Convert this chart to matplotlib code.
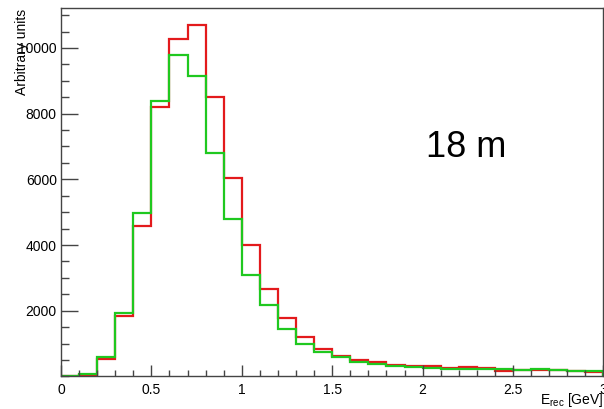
import numpy as np
import matplotlib
matplotlib.use("Agg")
import matplotlib.pyplot as plt
from matplotlib.ticker import MultipleLocator

# ==========================================================
# Data
# ==========================================================

bin_edges = np.round(np.arange(0.0, 3.0001, 0.1), 2)

red_counts = [10, 60, 530, 1850, 4570, 8210, 10280, 10710, 8500, 6050,
              4000, 2650, 1790, 1200, 850, 620, 500, 440, 360, 320,
              310, 260, 296, 266, 180, 185, 185, 185, 160, 150]

green_counts = [15, 70, 580, 1930, 4965, 8390, 9770, 9150, 6790, 4780,
                3090, 2170, 1450, 990, 760, 580, 440, 380, 330, 280,
                256, 216, 230, 216, 225, 205, 236, 205, 165, 165]

x_ticks = [0, 0.5, 1, 1.5, 2, 2.5, 3]
x_tick_labels = ["0", "0.5", "1", "1.5", "2", "2.5", "3"]
y_ticks = [2000, 4000, 6000, 8000, 10000]

# ==========================================================
# Style
# ==========================================================

plt.rcParams["font.family"] = ["Liberation Sans", "DejaVu Sans"]
plt.rcParams["mathtext.fontset"] = "custom"
plt.rcParams["mathtext.rm"] = "Liberation Sans"
plt.rcParams["mathtext.it"] = "Liberation Sans:italic"

fig = plt.figure(figsize=(6.04, 4.09), dpi=100)
ax = fig.add_axes([0.101, 0.0795, 0.898, 0.9005])

# ==========================================================
# Histograms
# ==========================================================

ax.stairs(red_counts, bin_edges, color="#e31a1c", linewidth=1.6)
ax.stairs(green_counts, bin_edges, color="#1fc81f", linewidth=1.6)

ax.set_xlim(0, 3)
ax.set_ylim(0, 11210)

ax.set_xticks(x_ticks)
ax.set_xticklabels(x_tick_labels)
ax.set_yticks(y_ticks)
ax.xaxis.set_minor_locator(MultipleLocator(0.1))
ax.yaxis.set_minor_locator(MultipleLocator(500))

ax.tick_params(axis="x", which="major", direction="in", length=8,
               width=1, labelsize=10, pad=5, color="#444444")
ax.tick_params(axis="x", which="minor", direction="in", length=4.5,
               width=1, color="#444444")
ax.tick_params(axis="y", which="major", direction="in", length=12,
               width=1, labelsize=10, pad=3, color="#444444")
ax.tick_params(axis="y", which="minor", direction="in", length=6,
               width=1, color="#444444")

for side in ["left", "bottom", "top", "right"]:
    ax.spines[side].set_color("#444444")
    ax.spines[side].set_linewidth(1)

# ==========================================================
# Labels
# ==========================================================

fig.text(0.037, 0.978, "Arbitrary units", rotation=90,
         ha="center", va="top", fontsize=10)

fig.text(0.999, 0.0, r"E$_{\rm rec}$ [GeV]", ha="right", va="bottom",
         fontsize=10)

ax.text(2.02, 6670, "18 m", fontsize=26, ha="left", va="baseline")

fig.savefig("out.png", dpi=100)
